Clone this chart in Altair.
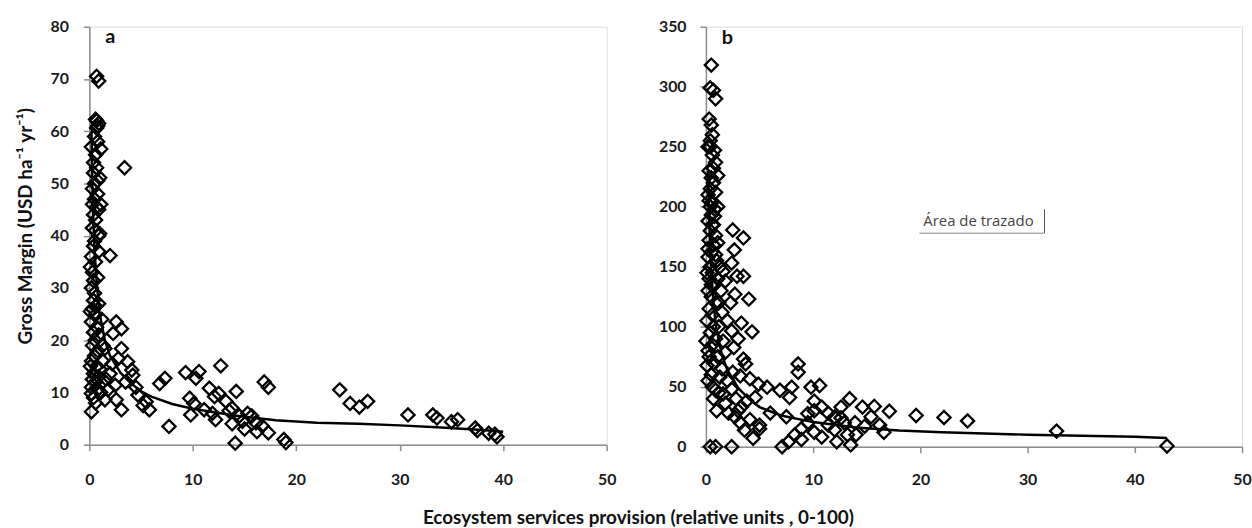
import altair as alt
import pandas as pd

# ---------------- Panel a data ----------------
a_x = [0.7, 0.9, 0.6, 0.9, 0.7, 0.5, 0.8, 1.1, 0.6, 0.4, 0.7, 1.0, 0.5, 0.3, 0.8, 0.5, 1.1, 0.7, 0.9, 0.4,
       0.6, 0.3, 1.0, 0.9, 0.5, 0.4, 0.2, 0.6, 0.3, 0.4, 0.2, 0.4, 0.6, 0.3, 0.55, 0.2, 0.7, 0.4, 0.55, 0.3,
       0.8, 0.5, 0.2, 0.7, 0.4, 1.0, 0.3, 0.6, 0.2, 0.8, 0.2, 0.4, 0.2,
       0.2, 0.4, 0.8, 0.3, 0.6, 0.9, 0.1, 0.8, 0.5, 0.9, 0.1, 1.2, 0.9, 1.3, 0.1, 0.9, 1.1, 0.6, 0.7, 0.8,
       2.0, 3.4, 2.6, 3.1, 2.3, 1.5, 3.1, 2.0, 3.7, 4.1, 2.5, 4.2, 1.5, 2.6, 3.1, 4.7, 5.5, 5.8, 1.2, 1.8,
       2.2, 1.6, 3.5, 4.5, 5.2, 1.3, 2.8,
       6.8, 7.3, 7.7, 9.3, 10.6, 10.3, 12.7, 9.7, 10.1, 9.8, 11.1, 11.6, 12.1, 12.5, 11.9, 12.2, 13.2, 13.5,
       13.8, 14.2, 14.5, 13.8, 14.1, 14.8, 15.3, 15.7, 15.0, 16.1, 16.7, 16.2, 16.9, 17.3, 17.3, 18.8, 19.0,
       24.2, 25.2, 26.1, 26.9, 30.8, 33.2, 33.6, 35.0, 35.6, 37.3, 37.5, 38.6, 39.2, 39.4]
a_y = [70.5, 69.6, 62.3, 61.5, 60.6, 59.0, 58.0, 56.6, 55.5, 54.0, 53.0, 51.1, 50.0, 49.0, 48.0, 47.0, 46.0, 45.5, 45.0, 44.0,
       43.0, 41.5, 40.4, 40.0, 39.0, 38.0, 36.0, 35.0, 33.0, 31.4, 30.0, 27.6, 26.5, 26.0, 24.8, 23.5, 22.5, 21.5, 20.0, 19.0,
       18.0, 17.0, 16.0, 15.0, 13.6, 14.5, 12.5, 12.0, 11.0, 10.5, 9.8, 9.0, 6.3,
       57.0, 52.0, 50.5, 46.0, 41.0, 37.0, 34.0, 32.0, 29.0, 27.0, 25.5, 24.0, 21.0, 19.0, 15.0, 13.0, 10.0, 8.0, 62.0, 61.0,
       36.2, 53.0, 23.5, 22.2, 21.3, 18.4, 18.4, 13.6, 15.9, 14.3, 11.4, 13.3, 8.6, 8.6, 6.7, 9.5, 8.2, 6.7, 11.8, 10.5,
       15.5, 12.6, 12.0, 11.0, 7.5, 16.0, 16.5,
       11.7, 12.7, 3.5, 13.8, 14.0, 12.7, 15.1, 8.9, 7.9, 5.7, 6.7, 10.8, 9.2, 9.8, 6.0, 4.8, 8.3, 6.5,
       7.0, 10.2, 5.5, 4.0, 0.3, 4.5, 6.0, 5.5, 3.0, 4.2, 3.6, 2.5, 12.0, 11.0, 2.3, 1.0, 0.4,
       10.5, 7.9, 7.2, 8.3, 5.7, 5.7, 5.1, 4.4, 4.8, 3.2, 2.7, 2.2, 2.0, 1.5]

a_fit_x = [0.2, 0.35, 0.5, 0.75, 1, 1.5, 2, 3, 4, 5, 6, 8, 10, 14, 18, 22, 26, 30, 34, 38, 40]
a_fit_y = [60, 45, 37, 30, 25, 20, 17, 13.8, 11.8, 10.2, 9.2, 7.8, 6.9, 5.6, 4.7, 4.2, 4.0, 3.7, 3.3, 2.8, 2.5]

# ---------------- Panel b data ----------------
b_x = [0.5, 0.4, 0.7, 0.9, 0.3, 0.5, 0.6, 0.4, 0.4, 0.8, 0.6, 0.9, 0.3, 0.5, 0.7, 0.4, 0.9, 0.3, 0.6, 0.8,
       0.5, 0.2, 0.8, 0.6, 0.4, 0.9, 0.3, 0.7, 0.5, 0.2, 1.0, 0.4, 0.6, 0.3, 0.8, 0.2, 0.5, 0.9, 0.3, 0.6,
       0.7, 0.0, 0.4, 0.2, 0.1, 0.7, 0.9, 0.5, 0.3, 1.2, 0.4, 0.9,
       0.2, 0.7, 1.1, 0.2, 1.1, 0.4, 0.7, 1.1, 0.2, 0.9, 1.3, 0.1, 1.1, 0.5, 1.2, 0.1, 0.9, 0.6, 1.1, 0.2,
       0.6, 1.5, 1.0, 0.7,
       2.5, 3.5, 2.65, 2.4, 2.9, 1.6, 3.5, 1.8, 2.7, 4.0, 2.3, 1.5, 3.3, 2.4, 4.3, 1.6, 2.6, 1.8, 3.5, 3.7,
       2.5, 3.2, 4.1, 4.9, 5.7, 4.6, 1.8, 2.4, 3.3, 3.8, 2.1, 2.7, 3.6, 4.1, 5.0, 4.4, 5.0, 3.2, 2.4, 1.6,
       2.0, 1.3, 2.8, 3.0, 1.2, 1.4, 2.0, 3.0,
       6.9, 8.0, 7.8, 8.6, 8.6, 9.8, 10.6, 10.1, 9.5, 10.1, 10.8, 11.4, 12.0, 12.6, 13.4, 13.9, 14.6, 15.7,
       17.1, 16.2, 7.7, 7.1, 8.3, 8.9, 8.9, 10.1, 10.8, 11.4, 12.2, 12.0, 12.9, 13.5, 14.0, 13.2, 12.6, 14.8,
       15.4, 16.6, 9.5, 6.0, 7.5,
       19.6, 22.2, 24.4, 32.7, 43.0]
b_y = [318, 299, 297, 290, 273, 268, 260, 255, 250, 247, 243, 237, 230, 224, 220, 215, 212, 205, 204, 198,
       193, 188, 192, 185, 180, 176, 172, 168, 162, 158, 155, 150, 145, 140, 135, 130, 125, 120, 115, 110,
       100, 88, 95, 80, 67.6, 70, 47, 60, 75, 45, 0, 0,
       250, 232, 226, 210, 200, 200, 185, 170, 165, 160, 150, 145, 140, 135, 120, 105, 90, 85, 75, 55,
       50, 65, 30, 40,
       180.6, 174, 164, 153, 142, 146, 142, 138, 127, 123, 120, 112, 103, 96.5, 95.7, 88, 82.7, 78.6, 73, 69,
       62, 59, 56.6, 52, 49.6, 41, 36, 48, 33, 38, 28, 24.8, 13.8, 22.6, 18, 7, 15, 20, 0, 44,
       55, 58, 40, 30, 100, 130, 105, 90,
       47, 49.6, 41, 69, 62, 49.6, 51, 38, 27.6, 30, 33, 28, 24.8, 33, 40, 20, 33, 33.6,
       29.5, 18, 4, 0, 10, 15, 6, 12, 8, 18, 4.1, 14, 20, 1.5, 10, 10, 24, 17,
       25, 12, 20, 28, 25,
       26, 24.3, 21.5, 13, 0.6]

b_fit_x = [0.2, 0.35, 0.5, 0.75, 1, 1.5, 2, 3, 4, 5, 7, 10, 14, 18, 22, 30, 40, 43]
b_fit_y = [230, 175, 145, 115, 97, 76, 64, 49, 40, 33, 26, 20.5, 16, 13.5, 12, 10, 8.3, 7.3]

x_ticks = [0, 10, 20, 30, 40, 50]
a_ticks = [0, 10, 20, 30, 40, 50, 60, 70, 80]
b_ticks = [0, 50, 100, 150, 200, 250, 300, 350]

x_title = "Ecosystem services provision (relative units , 0-100)"
y_title = "Gross Margin (USD ha\u207b\u00b9 yr\u207b\u00b9)"

GRAY = "#8c8c8c"
FONT = "Lato"

dfa = pd.DataFrame({"x": a_x, "y": a_y})
dfa_fit = pd.DataFrame({"x": a_fit_x, "y": a_fit_y})
dfb = pd.DataFrame({"x": b_x, "y": b_y})
dfb_fit = pd.DataFrame({"x": b_fit_x, "y": b_fit_y})
one = pd.DataFrame({"k": [0]})


def x_axis(pad):
    return alt.Axis(values=x_ticks, title=None, grid=False, domainColor=GRAY, domainWidth=1.5,
                    tickColor=GRAY, tickWidth=1.5, tickSize=6, labelFont=FONT, labelFontWeight="bold",
                    labelFontSize=16, labelColor="#1a1a1a", labelPadding=pad, labelFlush=False,
                    labelOverlap=False)


def y_axis(vals, pad):
    return alt.Axis(values=vals, title=None, grid=False, domainColor=GRAY, domainWidth=1.5,
                    tickColor=GRAY, tickWidth=1.5, tickSize=6, labelFont=FONT, labelFontWeight="bold",
                    labelFontSize=16, labelColor="#1a1a1a", labelPadding=pad, labelOverlap=False)


def panel(df, dfit, ymax, yvals, xpad, ypad):
    xs = alt.Scale(domain=[0, 50], nice=False)
    ys = alt.Scale(domain=[0, ymax], nice=False)
    pts = alt.Chart(df).mark_point(shape="diamond", filled=False, size=175, strokeWidth=2.3,
                                   color="black", opacity=1).encode(
        x=alt.X("x:Q", scale=xs, axis=x_axis(xpad)),
        y=alt.Y("y:Q", scale=ys, axis=y_axis(yvals, ypad)))
    line = alt.Chart(dfit).mark_line(color="black", strokeWidth=2.5).encode(
        x=alt.X("x:Q", scale=xs), y=alt.Y("y:Q", scale=ys))
    return pts, line


pa, la = panel(dfa, dfa_fit, 80, a_ticks, 21, 15)
pb, lb = panel(dfb, dfb_fit, 350, b_ticks, 19, 14)

bg = alt.Chart(one).mark_rect(opacity=0).encode(
    x=alt.value(-89), x2=alt.value(1252 - 89), y=alt.value(-24), y2=alt.value(528 - 24))

lab_a = alt.Chart(one).mark_text(text="a", font=FONT, fontWeight="bold", fontSize=20,
                                 align="left", baseline="alphabetic", color="#111").encode(
    x=alt.value(16), y=alt.value(16))
ytitle = alt.Chart(one).mark_text(text=y_title, font=FONT, fontWeight="bold", fontSize=19,
                                  align="center", baseline="alphabetic", angle=270, color="#111").encode(
    x=alt.value(-58), y=alt.value(201))
xtitle = alt.Chart(one).mark_text(text=x_title, font=FONT, fontWeight="bold", fontSize=19,
                                  align="center", baseline="alphabetic", color="#111").encode(
    x=alt.value(553), y=alt.value(501))

lab_b = alt.Chart(one).mark_text(text="b", font=FONT, fontWeight="bold", fontSize=20,
                                 align="left", baseline="alphabetic", color="#111").encode(
    x=alt.value(16), y=alt.value(17))
area_txt = alt.Chart(one).mark_text(text="\u00c1rea de trazado", font="Open Sans",
                                    fontSize=15, align="left", baseline="middle", color="#444").encode(
    x=alt.value(219), y=alt.value(196))
rule_v = alt.Chart(one).mark_rule(color="#555", strokeWidth=1).encode(
    x=alt.value(341), y=alt.value(184), y2=alt.value(208))
rule_h = alt.Chart(one).mark_rule(color="#888", strokeWidth=1).encode(
    x=alt.value(215), x2=alt.value(341), y=alt.value(208))

chart_a = alt.layer(bg, la, pa, lab_a, ytitle, xtitle).properties(width=521, height=421)
chart_b = alt.layer(lb, pb, lab_b, area_txt, rule_v, rule_h).properties(width=540, height=423)

chart = alt.hconcat(chart_a, chart_b, spacing=100, bounds="flush").properties(
    padding=0).configure_view(stroke=None).configure(background="white")

chart.save("out.html", embed_options={"renderer": "svg", "actions": False})
